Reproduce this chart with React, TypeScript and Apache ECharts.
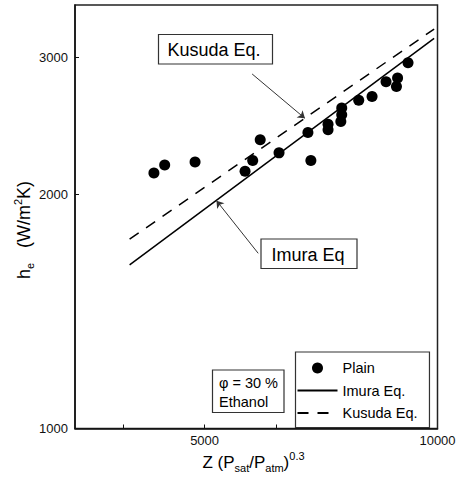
import React, { useEffect, useRef } from "react";
import * as echarts from "echarts";

// Measured evaporation heat transfer coefficient (plain surface)
const zValues = [4300, 4440, 4860, 5640, 5770, 5900, 6240, 6800, 6860, 7220, 7220, 7520, 7520, 7500, 7910, 8230, 8580, 8880, 8850, 9160];
const heValues = [2130, 2180, 2200, 2140, 2210, 2350, 2260, 2400, 2210, 2460, 2420, 2580, 2530, 2480, 2640, 2670, 2790, 2820, 2750, 2950];

// Correlations (straight lines on log-log axes)
const imuraZ = [4000, 9900];
const imuraH = [1623, 3171];
const kusudaZ = [4000, 9900];
const kusudaH = [1751, 3260];

// Axis ranges, tick marks and labels
const xRange = [3400, 10000];
const yRange = [1000, 3500];
const xTickValues = [3920, 5000, 6180, 7400, 8680];
const xLabelValues = [5000, 10000];
const yTickValues = [2000, 3000];
const yLabelValues = [1000, 2000, 3000];

// Annotation arrows: [from Z, from h] -> [to Z, to h]
const imuraArrow = [[5865, 1679], [5180, 1962]];
const kusudaArrow = [[5760, 2854], [6740, 2503]];

const FONT = '"Liberation Sans", Arial, Helvetica, sans-serif';
const lg = (v: number) => Math.log10(v);
const pair = (xs: number[], ys: number[]) => xs.map((x, i) => [lg(x), lg(ys[i])]);

export default function App() {
  const ref = useRef<HTMLDivElement>(null);

  useEffect(() => {
    if (!ref.current) return;
    const chart = echarts.init(ref.current, null, { renderer: "svg" });

    const arrow = (a: number[][]) => ({
      silent: true,
      symbol: ["none", "arrow"],
      symbolSize: 7,
      label: { show: false },
      lineStyle: { color: "#333", width: 1, type: "solid" },
      emphasis: { disabled: true },
      data: [[{ coord: [lg(a[0][0]), lg(a[0][1])] }, { coord: [lg(a[1][0]), lg(a[1][1])] }]],
    });

    const fmt = (v: number) => String(Math.round(Math.pow(10, v)));

    chart.setOption({
      animation: false,
      backgroundColor: "#fff",
      grid: {
        left: 75,
        right: 23.5,
        top: 5,
        bottom: 54.5,
        show: true,
        borderColor: "#222",
        borderWidth: 1.5,
      },
      xAxis: {
        type: "value",
        min: lg(xRange[0]),
        max: lg(xRange[1]),
        splitLine: { show: false },
        axisLine: { show: true, onZero: false, lineStyle: { color: "#111", width: 1.5 } },
        axisTick: {
          show: true,
          inside: true,
          length: 4,
          customValues: xTickValues.map(lg),
          lineStyle: { color: "#111", width: 1 },
        },
        axisLabel: {
          customValues: xLabelValues.map(lg),
          formatter: fmt,
          margin: 5,
          fontSize: 13,
          color: "#111",
          fontFamily: FONT,
        },
      },
      yAxis: {
        type: "value",
        min: lg(yRange[0]),
        max: lg(yRange[1]),
        splitLine: { show: false },
        axisLine: { show: true, onZero: false, lineStyle: { color: "#111", width: 1.5 } },
        axisTick: {
          show: true,
          inside: true,
          length: 4,
          customValues: yTickValues.map(lg),
          lineStyle: { color: "#111", width: 1 },
        },
        axisLabel: {
          customValues: yLabelValues.map(lg),
          formatter: fmt,
          margin: 7,
          fontSize: 13,
          color: "#111",
          fontFamily: FONT,
        },
      },
      legend: {
        orient: "vertical",
        left: 295.5,
        top: 352,
        itemWidth: 40,
        itemHeight: 11,
        itemGap: 7.5,
        padding: [8.5, 12, 7, 1],
        borderColor: "#333",
        borderWidth: 1.2,
        backgroundColor: "#fff",
        selectedMode: false,
        textStyle: { fontSize: 14.5, color: "#000", fontFamily: FONT },
        data: [
          { name: "Plain" },
          { name: "Imura Eq.", itemStyle: { opacity: 0 } },
          { name: "Kusuda Eq.", itemStyle: { opacity: 0 } },
        ],
      },
      series: [
        {
          name: "Plain",
          type: "scatter",
          symbol: "circle",
          symbolSize: 11,
          itemStyle: { color: "#000", opacity: 1 },
          data: pair(zValues, heValues),
          z: 5,
        },
        {
          name: "Imura Eq.",
          type: "line",
          symbol: "none",
          lineStyle: { color: "#000", width: 1.5, type: "solid" },
          itemStyle: { color: "#000" },
          data: pair(imuraZ, imuraH),
          markLine: arrow(imuraArrow),
        },
        {
          name: "Kusuda Eq.",
          type: "line",
          symbol: "none",
          lineStyle: { color: "#000", width: 1.5, type: [11, 9] },
          itemStyle: { color: "#000" },
          data: pair(kusudaZ, kusudaH),
          markLine: arrow(kusudaArrow),
        },
      ],
      graphic: [
        {
          type: "rect",
          shape: { x: 158.5, y: 34.5, width: 114, height: 29.5 },
          style: { fill: "#fff", stroke: "#333", lineWidth: 1.2 },
        },
        {
          type: "text",
          x: 167.5,
          y: 49.5,
          style: { text: "Kusuda Eq.", fontSize: 18, fontFamily: FONT, fill: "#000", verticalAlign: "middle" },
        },
        {
          type: "rect",
          shape: { x: 261, y: 239, width: 96, height: 29.5 },
          style: { fill: "#fff", stroke: "#333", lineWidth: 1.2 },
        },
        {
          type: "text",
          x: 271.5,
          y: 254.5,
          style: { text: "Imura Eq", fontSize: 18, fontFamily: FONT, fill: "#000", verticalAlign: "middle" },
        },
        {
          type: "rect",
          shape: { x: 212.5, y: 370, width: 71.5, height: 42.5 },
          style: { fill: "#fff", stroke: "#333", lineWidth: 1.2 },
        },
        {
          type: "text",
          x: 219,
          y: 383,
          style: { text: "φ = 30 %", fontSize: 14.5, fontFamily: FONT, fill: "#000", verticalAlign: "middle" },
        },
        {
          type: "text",
          x: 219,
          y: 401.5,
          style: { text: "Ethanol", fontSize: 14.5, fontFamily: FONT, fill: "#000", verticalAlign: "middle" },
        },
        {
          type: "text",
          x: 253.5,
          y: 462,
          style: {
            text: "{a|Z (P}{s|sat}{a|/P}{s|atm}{a|)}{p|0.3}",
            align: "center",
            verticalAlign: "middle",
            fill: "#000",
            rich: {
              a: { fontSize: 17, fontFamily: FONT, fill: "#000" },
              s: { fontSize: 11, fontFamily: FONT, fill: "#000", padding: [12, 0, 0, 0] },
              p: { fontSize: 11, fontFamily: FONT, fill: "#000", padding: [0, 0, 12, 0] },
            },
          },
        },
        {
          type: "text",
          x: 24,
          y: 230,
          rotation: Math.PI / 2,
          style: {
            text: "{a|h}{s|e}{a|   (W/m}{p|2}{a|K)}",
            align: "center",
            verticalAlign: "middle",
            fill: "#000",
            rich: {
              a: { fontSize: 18, fontFamily: FONT, fill: "#000" },
              s: { fontSize: 11, fontFamily: FONT, fill: "#000", padding: [12, 0, 0, 0] },
              p: { fontSize: 11, fontFamily: FONT, fill: "#000", padding: [0, 0, 12, 0] },
            },
          },
        },
      ],
    });

    return () => chart.dispose();
  }, []);

  return (
    <div
      ref={ref}
      style={{ position: "fixed", left: 0, top: 0, width: 461, height: 483, background: "#fff" }}
    />
  );
}
